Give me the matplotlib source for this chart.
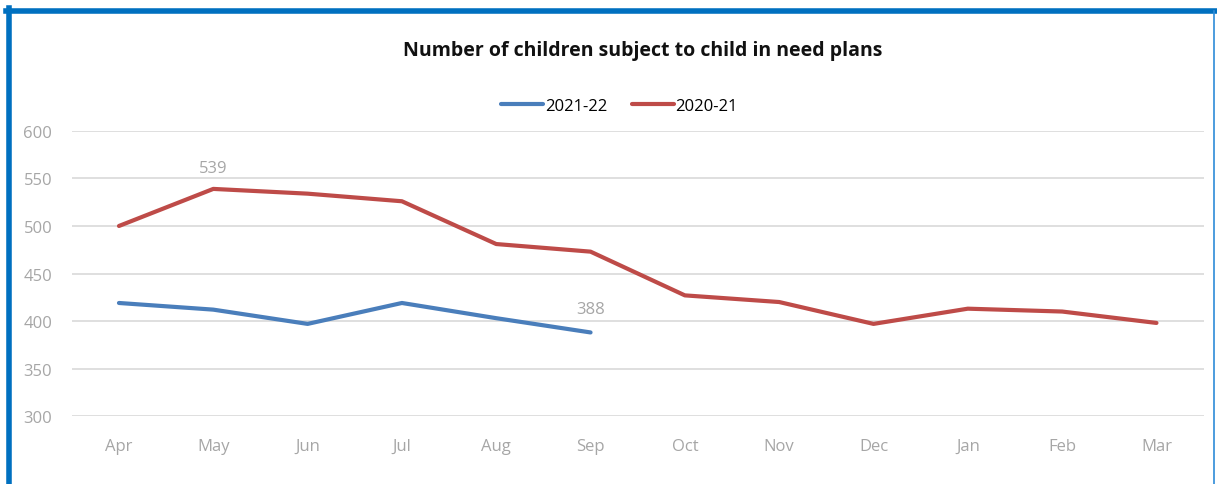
import matplotlib.pyplot as plt
from matplotlib.lines import Line2D

months = ["Apr", "May", "Jun", "Jul", "Aug", "Sep", "Oct", "Nov", "Dec", "Jan", "Feb", "Mar"]
y2122 = [419, 412, 397, 419, 403, 388]
y2021 = [500, 539, 534, 526, 481, 473, 427, 420, 397, 413, 410, 398]

blue = "#4A7EBB"
red = "#BE4B48"
grey = "#A6A6A6"

plt.rcParams["font.family"] = ["Open Sans", "DejaVu Sans"]

fig = plt.figure(figsize=(12.17, 4.85), dpi=100)
ax = fig.add_axes([0.059, 0.140, 0.930, 0.588])

x = range(len(months))
ax.plot(range(len(y2122)), y2122, color=blue, lw=3, label="2021-22", solid_capstyle="round")
ax.plot(x, y2021, color=red, lw=3, label="2020-21", solid_capstyle="round")

ax.annotate(str(y2021[1]), (1, y2021[1]), xytext=(0, 9), textcoords="offset points",
            ha="center", va="bottom", color=grey, fontsize=12)
ax.annotate(str(y2122[-1]), (len(y2122) - 1, y2122[-1]), xytext=(0, 11), textcoords="offset points",
            ha="center", va="bottom", color=grey, fontsize=12)

ax.set_xlim(-0.5, len(months) - 0.5)
ax.set_ylim(300, 600)
ax.set_yticks(range(300, 601, 50))
ax.set_xticks(list(x))
ax.set_xticklabels(months)
ax.grid(axis="y", color="#D9D9D9", lw=1.2)
ax.set_axisbelow(True)
for s in ax.spines.values():
    s.set_visible(False)
ax.tick_params(length=0, colors=grey, labelsize=12)
ax.tick_params(axis="x", pad=16)
ax.tick_params(axis="y", pad=14)

fig.text(0.528, 0.895, "Number of children subject to child in need plans",
         ha="center", va="center", fontsize=14, fontweight="bold", color="#111111")
ax.legend(loc="center", bbox_to_anchor=(0.484, 1.087), ncol=2, frameon=False,
          fontsize=12, handlelength=2.5, handletextpad=0.1, columnspacing=1.5)

# blue frame around the chart
W, H = 1217, 485
fig.add_artist(Line2D([8.5 / W, 8.5 / W], [0, 1 - 9 / H], color="#0070C0", lw=4, transform=fig.transFigure))
fig.add_artist(Line2D([6 / W, 1215 / W], [1 - 12 / H, 1 - 12 / H], color="#0070C0", lw=4, transform=fig.transFigure))
fig.add_artist(Line2D([1214 / W, 1214 / W], [0, 1 - 12 / H], color="#2E8BD8", lw=1.2, transform=fig.transFigure))

fig.savefig("out.png", dpi=100)
